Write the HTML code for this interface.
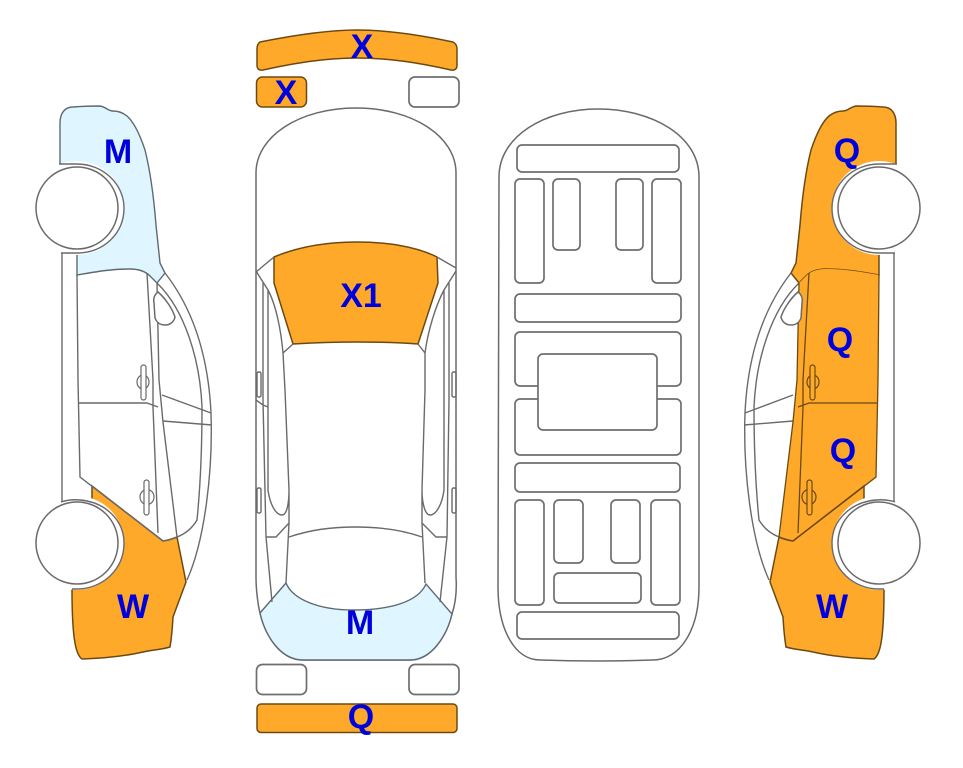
<!DOCTYPE html>
<html>
<head>
<meta charset="utf-8">
<style>
html,body{margin:0;padding:0;background:#fff;width:963px;height:768px;overflow:hidden}
svg{display:block}
text{font-family:"Liberation Sans",sans-serif;font-weight:bold;font-size:34px;fill:#0000DC;text-anchor:middle}
.g{fill:none;stroke:#6a6a6a;stroke-width:1.4}
.w{fill:#fff;stroke:#6a6a6a;stroke-width:1.5}
.r{fill:#fff;stroke:#6e6e6e;stroke-width:1.7}
.o{fill:#FFA92B;stroke:#6b4a12;stroke-width:1.5}
.b{fill:#DFF5FF;stroke:#5f6a70;stroke-width:1.4}
.d{fill:none;stroke:#6b4a12;stroke-width:1.3}
.h{fill:#FFA92B;stroke:#6b4a12;stroke-width:1.2}
.hl{fill:#fff;stroke:#6a6a6a;stroke-width:1.2}
</style>
</head>
<body>
<svg width="963" height="768" viewBox="0 0 963 768" xmlns="http://www.w3.org/2000/svg">
<rect width="963" height="768" fill="#fff"/>

<!-- LEFT SIDE CAR -->
<g>
  <path class="b" d="M60,170 V123 C60,113 65,107 73,107 C85,106 95,106 100,106 C106,107 108,111 113,111 C117,111 122,112 127,116 C135,123 141,138 145,150 C150,170 154,200 156,225 L160,263 L165,273 L157,283 L150,276 C146,272 140,269 130,269 C110,269 95,272 77,275 V250 H60 Z"/>
  <path class="o" d="M92,486 L163,541 Q170,540 177,537 L186,582 L173,617 Q172,635 170,647 C160,650 150,650 143,652 C130,655 113,658 82,659 C76,655 72,640 72,589 V560 H92 Z"/>
  <circle cx="77" cy="208" r="47" fill="#fff"/>
  <circle cx="77" cy="543" r="47" fill="#fff"/>
  <path class="g" d="M62,253 V502 M77,275 L78,380 L80,477 L163,541 Q170,540 177,537 Q190,532 197,520 C200,490 202,450 202,407 C200,360 185,310 157,283 M147,273 L153,380 L153,407 L158,533 M157,283 L159,380 L163,422 L177,537 M78,403 H147 L158,407 M162,395 L211,413 M163,421 L212,425"/>
  <path class="g" d="M165,273 C190,305 208,350 211,413 C213,470 205,540 187,580"/>
  <path class="w" d="M158,292 C155,294 153,298 154,303 L155,318 C157,323 160,325 165,325 C170,325 174,322 175,317 C172,308 165,298 158,292 Z"/>
  <ellipse class="hl" cx="143" cy="382" rx="6" ry="7"/>
  <rect class="hl" x="141" y="365" width="5" height="35" rx="2.5"/>
  <ellipse class="hl" cx="147" cy="497" rx="7" ry="7.5"/>
  <rect class="hl" x="144" y="480" width="5" height="35" rx="2.5"/>
  <path class="g" d="M59,164 H77 C103,164 124,184 124,208 C124,234 103,253 77,253 H61"/>
  <path class="g" d="M61,502 Q70,499 80,500 C105,502 124,520 124,543 C124,570 102,589 77,589 H72"/>
  <circle class="w" cx="77" cy="208" r="41"/>
  <circle class="w" cx="77" cy="543" r="41"/>
</g>

<!-- RIGHT SIDE CAR (mirrored) -->
<g transform="translate(956,0) scale(-1,1)">
  <path class="o" d="M60,170 V123 C60,113 65,107 73,107 C85,106 95,106 100,106 C106,107 108,111 113,111 C117,111 122,112 127,116 C135,123 141,138 145,150 C150,170 154,200 156,225 L160,263 L165,273 L157,283 L150,276 C146,272 140,269 130,269 C110,269 95,272 77,275 V250 H60 Z"/>
  <path d="M77,275 C95,272 110,269 130,269 C140,269 146,272 150,276 L157,283 L159,380 L163,422 L177,537 Q170,540 163,541 L80,477 L78,380 Z" fill="#FFA92B"/>
  <path class="o" d="M92,486 L163,541 Q170,540 177,537 L186,582 L173,617 Q172,635 170,647 C160,650 150,650 143,652 C130,655 113,658 82,659 C76,655 72,640 72,589 V560 H92 Z"/>
  <circle cx="77" cy="208" r="47" fill="#fff"/>
  <circle cx="77" cy="543" r="47" fill="#fff"/>
  <path class="g" d="M62,253 V502 M177,537 Q190,532 197,520 C200,490 202,450 202,407 C200,360 185,310 157,283 M163,395 L211,413 M163,421 L212,425"/>
  <path class="g" d="M165,273 C190,305 208,350 211,413 C213,470 205,540 187,580"/>
  <path class="d" d="M77,275 L78,380 L80,477 L163,541 M147,273 L153,380 L153,407 L158,533 M78,403 H147 L158,407 M157,283 L159,380 L163,422 L177,537"/>
  <path class="w" d="M158,292 C155,294 153,298 154,303 L155,318 C157,323 160,325 165,325 C170,325 174,322 175,317 C172,308 165,298 158,292 Z"/>
  <ellipse class="h" cx="143" cy="382" rx="6" ry="7"/>
  <rect class="h" x="141" y="365" width="5" height="35" rx="2.5"/>
  <ellipse class="h" cx="147" cy="497" rx="7" ry="7.5"/>
  <rect class="h" x="144" y="480" width="5" height="35" rx="2.5"/>
  <path class="g" d="M59,164 H77 C103,164 124,184 124,208 C124,234 103,253 77,253 H61"/>
  <path class="g" d="M61,502 Q70,499 80,500 C105,502 124,520 124,543 C124,570 102,589 77,589 H72"/>
  <circle class="w" cx="77" cy="208" r="41"/>
  <circle class="w" cx="77" cy="543" r="41"/>
</g>

<!-- TOP VIEW CAR -->
<path class="o" d="M260,42 C290,36 325,30 357,30 C390,30 425,36 453,42 Q457,44 457,49 V65 Q457,71 451,70 C420,63 390,58 357,58 C325,58 295,63 263,70 Q257,71 257,65 V49 Q257,44 260,42 Z"/>
<rect class="o" x="256.5" y="77" width="50" height="30" rx="6"/>
<rect class="r" x="409" y="77" width="50" height="30" rx="6"/>
<rect class="r" x="256.5" y="664.500" width="50" height="30" rx="6"/>
<rect class="r" x="409" y="664.500" width="50" height="30" rx="6"/>
<rect class="o" x="257" y="704" width="200" height="28.500" rx="4"/>

<path class="w" d="M256,173 C256,136 300,108 356,108 C412,108 456,136 456,173 V577 C457,592 455,605 452,614 C447,635 432,660 410,660 H303 C280,660 265,635 260,613 C258,605 256,590 256,577 Z"/>
<path class="b" d="M260,613 L286,583 C293,600 320,610 353,610 C390,610 418,602 426,584 L452,614 C447,635 432,660 410,660 H303 C280,660 265,635 260,613 Z"/>
<path class="o" d="M274,257 C300,246 330,242 357,242 C385,242 415,246 437,257 L438,283 L418,344 Q390,342 357,342 Q325,342 293,344 L274,283 Z"/>
<path class="g" d="M256,272 L274,257 M456,268 L437,257"/>

<g id="topside">
  <path class="g" d="M256,271 L268,290 C276,305 281,330 283,353 L293,344 M283,353 L285,390 L289,490 L289,523 L286,583 M263,283 V400 L266,537 L272,602 M268,290 V490 C270,505 276,515 282,515 C287,515 289,503 289,490 M266,537 H276 L289,523 M256,400 L263,405 L268,407"/>
  <rect class="g" x="257" y="372" width="4" height="25" rx="1.500"/>
  <rect class="g" x="257" y="488" width="4" height="25" rx="1.500"/>
</g>
<g transform="translate(712,0) scale(-1,1)">
  <path class="g" d="M256,271 L268,290 C276,305 284,330 287,353 L294,344 M287,353 L287,390 L290,490 L290,523 L287,583 M263,283 V400 L265,537 L272,602 M268,290 V490 C270,505 276,515 282,515 C287,515 290,503 290,490 M265,537 H276 L290,523"/>
  <rect class="g" x="256" y="372" width="4" height="25" rx="1.500"/>
  <rect class="g" x="256" y="488" width="4" height="25" rx="1.500"/>
</g>
<path class="g" d="M289,537 C310,530 330,527 356,527 C380,527 402,530 422,537"/>

<!-- UNDERBODY -->
<path class="w" d="M499,177 C499,136 545,109 598,109 C652,109 699,136 699,177 V587 C699,630 680,660 653,660 Q598,662 540,660 C515,660 498,630 498,587 Z"/>
<rect class="r" x="517" y="145" width="162" height="27" rx="5"/>
<rect class="r" x="515" y="179" width="29" height="104" rx="5"/>
<rect class="r" x="553" y="179" width="27" height="71" rx="5"/>
<rect class="r" x="616" y="179" width="27" height="71" rx="5"/>
<rect class="r" x="652" y="179" width="29" height="104" rx="5"/>
<rect class="r" x="515" y="294" width="166" height="28" rx="5"/>
<rect class="r" x="515" y="332" width="166" height="54" rx="5"/>
<rect class="r" x="515" y="399" width="166" height="56" rx="5"/>
<rect class="r" x="538" y="354" width="119" height="76" rx="5"/>
<rect class="r" x="515" y="463" width="165" height="29" rx="5"/>
<rect class="r" x="515" y="500" width="29" height="105" rx="5"/>
<rect class="r" x="554" y="500" width="29" height="63" rx="5"/>
<rect class="r" x="611" y="500" width="29" height="63" rx="5"/>
<rect class="r" x="651" y="500" width="29" height="105" rx="5"/>
<rect class="r" x="554" y="573" width="87" height="30" rx="5"/>
<rect class="r" x="517" y="612" width="162" height="27" rx="5"/>

<!-- LABELS -->
<text x="118" y="163">M</text>
<text x="133" y="618">W</text>
<text x="362" y="58">X</text>
<text x="286" y="104">X</text>
<text x="361" y="307">X1</text>
<text x="360" y="634">M</text>
<text x="361" y="728">Q</text>
<text x="847" y="162">Q</text>
<text x="840" y="351">Q</text>
<text x="843" y="462">Q</text>
<text x="832" y="618">W</text>
</svg>
</body>
</html>
